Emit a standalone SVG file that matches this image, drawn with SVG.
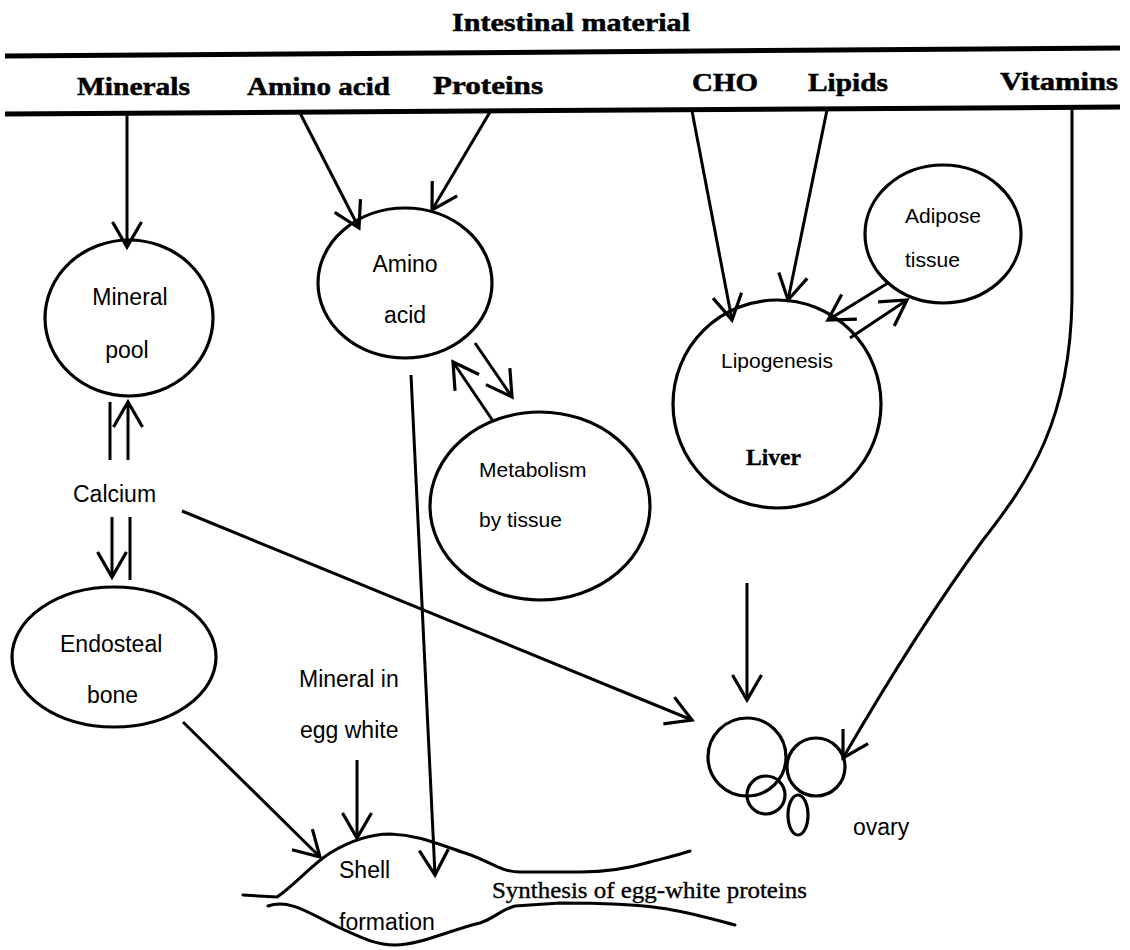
<svg xmlns="http://www.w3.org/2000/svg" width="1130" height="950" viewBox="0 0 1130 950">
<style>
.hdr{font-family:"Liberation Serif","Times New Roman",serif;font-weight:bold;font-size:25px;fill:#000;stroke:#000;stroke-width:0.5}
.lbl{font-family:"Liberation Sans",Arial,sans-serif;font-size:23px;fill:#000}
.sm{font-size:21px}
.ser{font-family:"Liberation Serif","Times New Roman",serif;font-size:23px;fill:#000;stroke:#000;stroke-width:0.35}
.node{fill:none;stroke:#000;stroke-width:3.2}
.bar{stroke:#000;stroke-width:5;fill:none}
.edge{stroke:#000;stroke-width:3;fill:none}
.shell{stroke:#000;stroke-width:3;fill:none;stroke-linecap:round}
</style>
<defs>
<marker id="ah" markerUnits="userSpaceOnUse" markerWidth="32" markerHeight="32" viewBox="0 0 32 32" refX="29" refY="16" orient="auto" overflow="visible">
<path d="M4,1.5 L29,16 L4,30.5" fill="none" stroke="#000" stroke-width="3.2" stroke-linejoin="miter"/>
</marker>
</defs>

<g id="header">
<text class="hdr" x="452" y="31" font-size="24" textLength="238" lengthAdjust="spacingAndGlyphs">Intestinal material</text>
<line class="bar" x1="5" y1="56" x2="1120" y2="48"/>
<line class="bar" x1="5" y1="114" x2="1120" y2="107"/>
<text class="hdr" x="77" y="95" textLength="113" lengthAdjust="spacingAndGlyphs">Minerals</text>
<text class="hdr" x="247" y="95" textLength="143" lengthAdjust="spacingAndGlyphs">Amino acid</text>
<text class="hdr" x="433" y="94" textLength="110" lengthAdjust="spacingAndGlyphs">Proteins</text>
<text class="hdr" x="692" y="91" textLength="66" lengthAdjust="spacingAndGlyphs">CHO</text>
<text class="hdr" x="808" y="91" textLength="80" lengthAdjust="spacingAndGlyphs">Lipids</text>
<text class="hdr" x="1000" y="90" textLength="118" lengthAdjust="spacingAndGlyphs">Vitamins</text>
</g>

<g id="mineral-pool">
<ellipse class="node" cx="129" cy="318" rx="84" ry="78"/>
<text class="lbl" x="130" y="305" text-anchor="middle">Mineral</text>
<text class="lbl" x="127" y="358" text-anchor="middle">pool</text>
</g>

<g id="amino-acid">
<ellipse class="node" cx="405" cy="283" rx="87" ry="75"/>
<text class="lbl" x="405" y="272" text-anchor="middle">Amino</text>
<text class="lbl" x="405" y="323" text-anchor="middle">acid</text>
</g>

<g id="metabolism">
<ellipse class="node" cx="540" cy="506" rx="110" ry="94"/>
<text class="lbl sm" x="479" y="477">Metabolism</text>
<text class="lbl sm" x="479" y="527">by tissue</text>
</g>

<g id="liver">
<circle class="node" cx="777" cy="404" r="104"/>
<text class="lbl sm" x="777" y="368" text-anchor="middle">Lipogenesis</text>
<text class="ser" x="746" y="465" font-weight="bold" textLength="55" lengthAdjust="spacingAndGlyphs">Liver</text>
</g>

<g id="adipose">
<ellipse class="node" cx="943" cy="234" rx="78" ry="69"/>
<text class="lbl sm" x="905" y="223">Adipose</text>
<text class="lbl sm" x="905" y="267">tissue</text>
</g>

<g id="calcium">
<text class="lbl" x="73" y="502" font-size="24">Calcium</text>
</g>

<g id="endosteal-bone">
<ellipse class="node" cx="114" cy="657" rx="102" ry="70"/>
<text class="lbl" x="60" y="652">Endosteal</text>
<text class="lbl" x="87" y="703">bone</text>
</g>

<g id="mineral-egg-white">
<text class="lbl" x="299" y="687" font-size="24">Mineral in</text>
<text class="lbl" x="300" y="738" font-size="24">egg white</text>
</g>

<g id="ovary">
<circle class="node" cx="747" cy="757" r="39"/>
<circle class="node" cx="816" cy="767" r="29"/>
<circle class="node" cx="766" cy="795" r="19"/>
<ellipse class="node" cx="798" cy="815" rx="10" ry="20"/>
<text class="lbl" x="853" y="835">ovary</text>
</g>

<g id="shell-formation">
<path class="shell" d="M243,895 L277,897 C295,885 310,866 330,853 C350,841 370,834 390,834 C420,835 440,845 465,853 C490,861 500,872 520,872 L580,872 C610,872 630,868 650,862 C665,858 678,855 690,851"/>
<path class="shell" d="M268,906 C290,898 312,915 340,928 C360,937 375,945 395,945 C420,945 450,930 480,923 C495,918 500,910 515,906 L560,903 C600,903 640,905 660,908 C690,912 715,920 735,925"/>
<text class="lbl" x="339" y="878">Shell</text>
<text class="lbl" x="339" y="930" font-size="24">formation</text>
<text class="ser" x="492" y="898" textLength="315" lengthAdjust="spacingAndGlyphs">Synthesis of egg-white proteins</text>
</g>

<g id="connectors">
<line class="edge" x1="127" y1="114" x2="127" y2="247" marker-end="url(#ah)"/>
<line class="edge" x1="300" y1="113" x2="359" y2="228" marker-end="url(#ah)"/>
<line class="edge" x1="490" y1="112" x2="432" y2="210" marker-end="url(#ah)"/>
<line class="edge" x1="692" y1="111" x2="732" y2="320" marker-end="url(#ah)"/>
<line class="edge" x1="827" y1="110" x2="788" y2="300" marker-end="url(#ah)"/>
<path class="edge" d="M1072,107 L1072,300 C1070,420 1030,480 983,540 C950,585 900,660 843,758" marker-end="url(#ah)"/>
<line class="edge" x1="888" y1="283" x2="828" y2="320" marker-end="url(#ah)"/>
<line class="edge" x1="850" y1="338" x2="907" y2="300" marker-end="url(#ah)"/>
<line class="edge" x1="475" y1="343" x2="512" y2="397" marker-end="url(#ah)"/>
<line class="edge" x1="493" y1="421" x2="453" y2="362" marker-end="url(#ah)"/>
<line class="edge" x1="411" y1="375" x2="435" y2="875" marker-end="url(#ah)"/>
<line class="edge" x1="110" y1="402" x2="110" y2="460"/>
<line class="edge" x1="128" y1="460" x2="128" y2="402" marker-end="url(#ah)"/>
<line class="edge" x1="112" y1="517" x2="112" y2="577" marker-end="url(#ah)"/>
<line class="edge" x1="130" y1="517" x2="130" y2="580"/>
<line class="edge" x1="182" y1="511" x2="692" y2="720" marker-end="url(#ah)"/>
<line class="edge" x1="183" y1="722" x2="320" y2="857" marker-end="url(#ah)"/>
<line class="edge" x1="357" y1="760" x2="357" y2="838" marker-end="url(#ah)"/>
<line class="edge" x1="747" y1="583" x2="747" y2="700" marker-end="url(#ah)"/>
</g>
</svg>
